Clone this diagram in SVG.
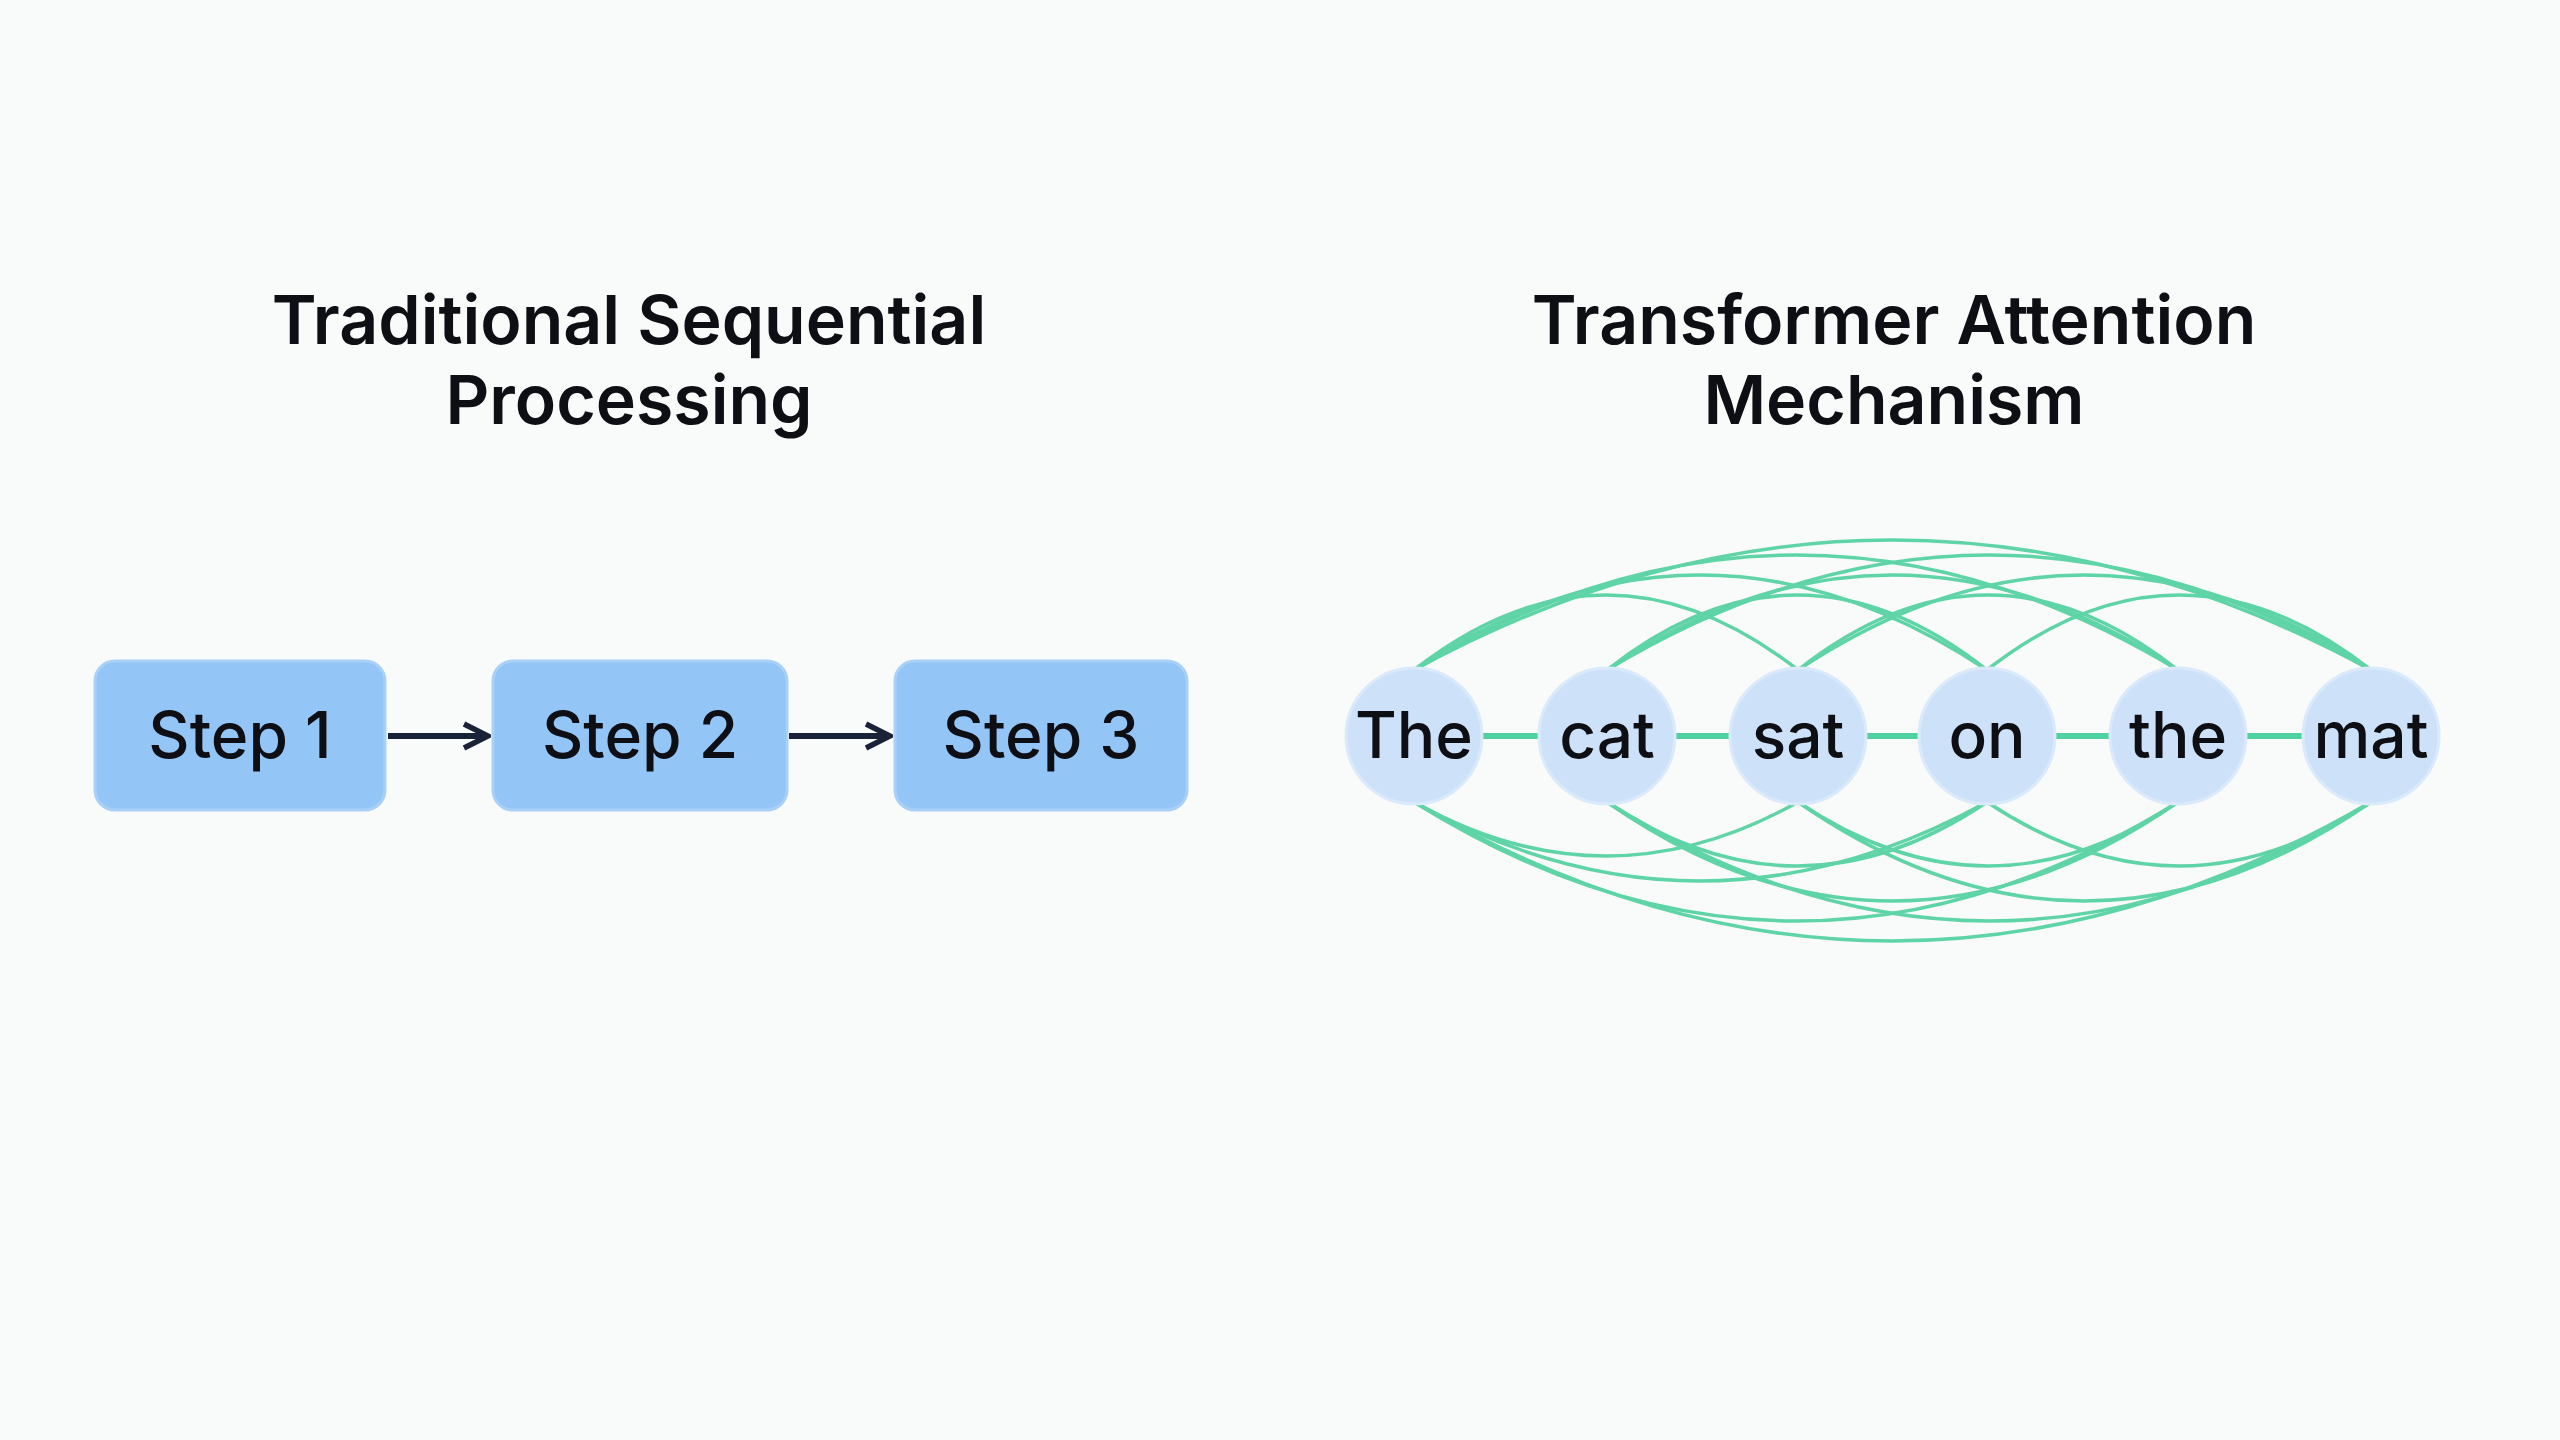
<svg xmlns="http://www.w3.org/2000/svg" width="2560" height="1440" viewBox="0 0 2560 1440">
<style>
.t{font-family:Inter,"Liberation Sans",sans-serif;font-weight:600;fill:#0d0f14;text-anchor:middle}
.title{font-size:68px}
.lbl{font-size:64px;font-weight:500}
.box{fill:#93c5f7;stroke:#a9d1f8;stroke-width:3}
.tok{fill:#cde2f9;stroke:#dbeafb;stroke-width:3}
.arc{fill:none;stroke:#5fd4a6;stroke-width:3.5}
.seq{stroke:#4fd1a0;stroke-width:6}
.arr{stroke:#1a2238;stroke-width:6;fill:none}
</style>
<defs><marker id="ah" viewBox="0 0 10 10" refX="9" refY="5" markerWidth="5" markerHeight="5" orient="auto"><path d="M1,1 L9,5 L1,9" fill="none" stroke="#1a2238" stroke-width="1.8"/></marker></defs>
<rect width="2560" height="1440" fill="#f9fafa"/>
<g id="title-left"><text class="t title" x="629" y="344">Traditional Sequential</text><text class="t title" x="629" y="424">Processing</text></g>
<g id="title-right"><text class="t title" x="1894" y="344">Transformer Attention</text><text class="t title" x="1894" y="424">Mechanism</text></g>
<g id="connectors">
<line class="arr" x1="388" y1="736" x2="488" y2="736" marker-end="url(#ah)"/>
<line class="arr" x1="789" y1="736" x2="890" y2="736" marker-end="url(#ah)"/>
<line class="seq" x1="1414" y1="736" x2="2371" y2="736"/>
<path class="arc" d="M1414,670 Q1892,410 2371,670"/>
<path class="arc" d="M1414,670 Q1796,440 2178,670"/>
<path class="arc" d="M1414,670 Q1700,480 1987,670"/>
<path class="arc" d="M1414,670 Q1606,520 1798,670"/>
<path class="arc" d="M1607,670 Q1989,440 2371,670"/>
<path class="arc" d="M1607,670 Q1892,480 2178,670"/>
<path class="arc" d="M1607,670 Q1797,520 1987,670"/>
<path class="arc" d="M1798,670 Q2084,480 2371,670"/>
<path class="arc" d="M1798,670 Q1988,520 2178,670"/>
<path class="arc" d="M1987,670 Q2179,520 2371,670"/>
<path class="arc" d="M1414,802 Q1892,1080 2371,802"/>
<path class="arc" d="M1414,802 Q1796,1040 2178,802"/>
<path class="arc" d="M1414,802 Q1700,960 1987,802"/>
<path class="arc" d="M1414,802 Q1606,910 1798,802"/>
<path class="arc" d="M1607,802 Q1989,1040 2371,802"/>
<path class="arc" d="M1607,802 Q1892,1000 2178,802"/>
<path class="arc" d="M1607,802 Q1797,930 1987,802"/>
<path class="arc" d="M1798,802 Q2084,1000 2371,802"/>
<path class="arc" d="M1798,802 Q1988,930 2178,802"/>
<path class="arc" d="M1987,802 Q2179,930 2371,802"/>
</g>
<g id="step1"><rect class="box" x="95" y="661" width="290" height="149" rx="20"/><text class="t lbl" x="240" y="758">Step 1</text></g>
<g id="step2"><rect class="box" x="493" y="661" width="294" height="149" rx="20"/><text class="t lbl" x="640" y="758">Step 2</text></g>
<g id="step3"><rect class="box" x="895" y="661" width="292" height="149" rx="20"/><text class="t lbl" x="1041" y="758">Step 3</text></g>
<g id="tok-The"><circle class="tok" cx="1414" cy="736" r="68"/><text class="t lbl" x="1414" y="758">The</text></g>
<g id="tok-cat"><circle class="tok" cx="1607" cy="736" r="68"/><text class="t lbl" x="1607" y="758">cat</text></g>
<g id="tok-sat"><circle class="tok" cx="1798" cy="736" r="68"/><text class="t lbl" x="1798" y="758">sat</text></g>
<g id="tok-on"><circle class="tok" cx="1987" cy="736" r="68"/><text class="t lbl" x="1987" y="758">on</text></g>
<g id="tok-the"><circle class="tok" cx="2178" cy="736" r="68"/><text class="t lbl" x="2178" y="758">the</text></g>
<g id="tok-mat"><circle class="tok" cx="2371" cy="736" r="68"/><text class="t lbl" x="2371" y="758">mat</text></g>
</svg>
